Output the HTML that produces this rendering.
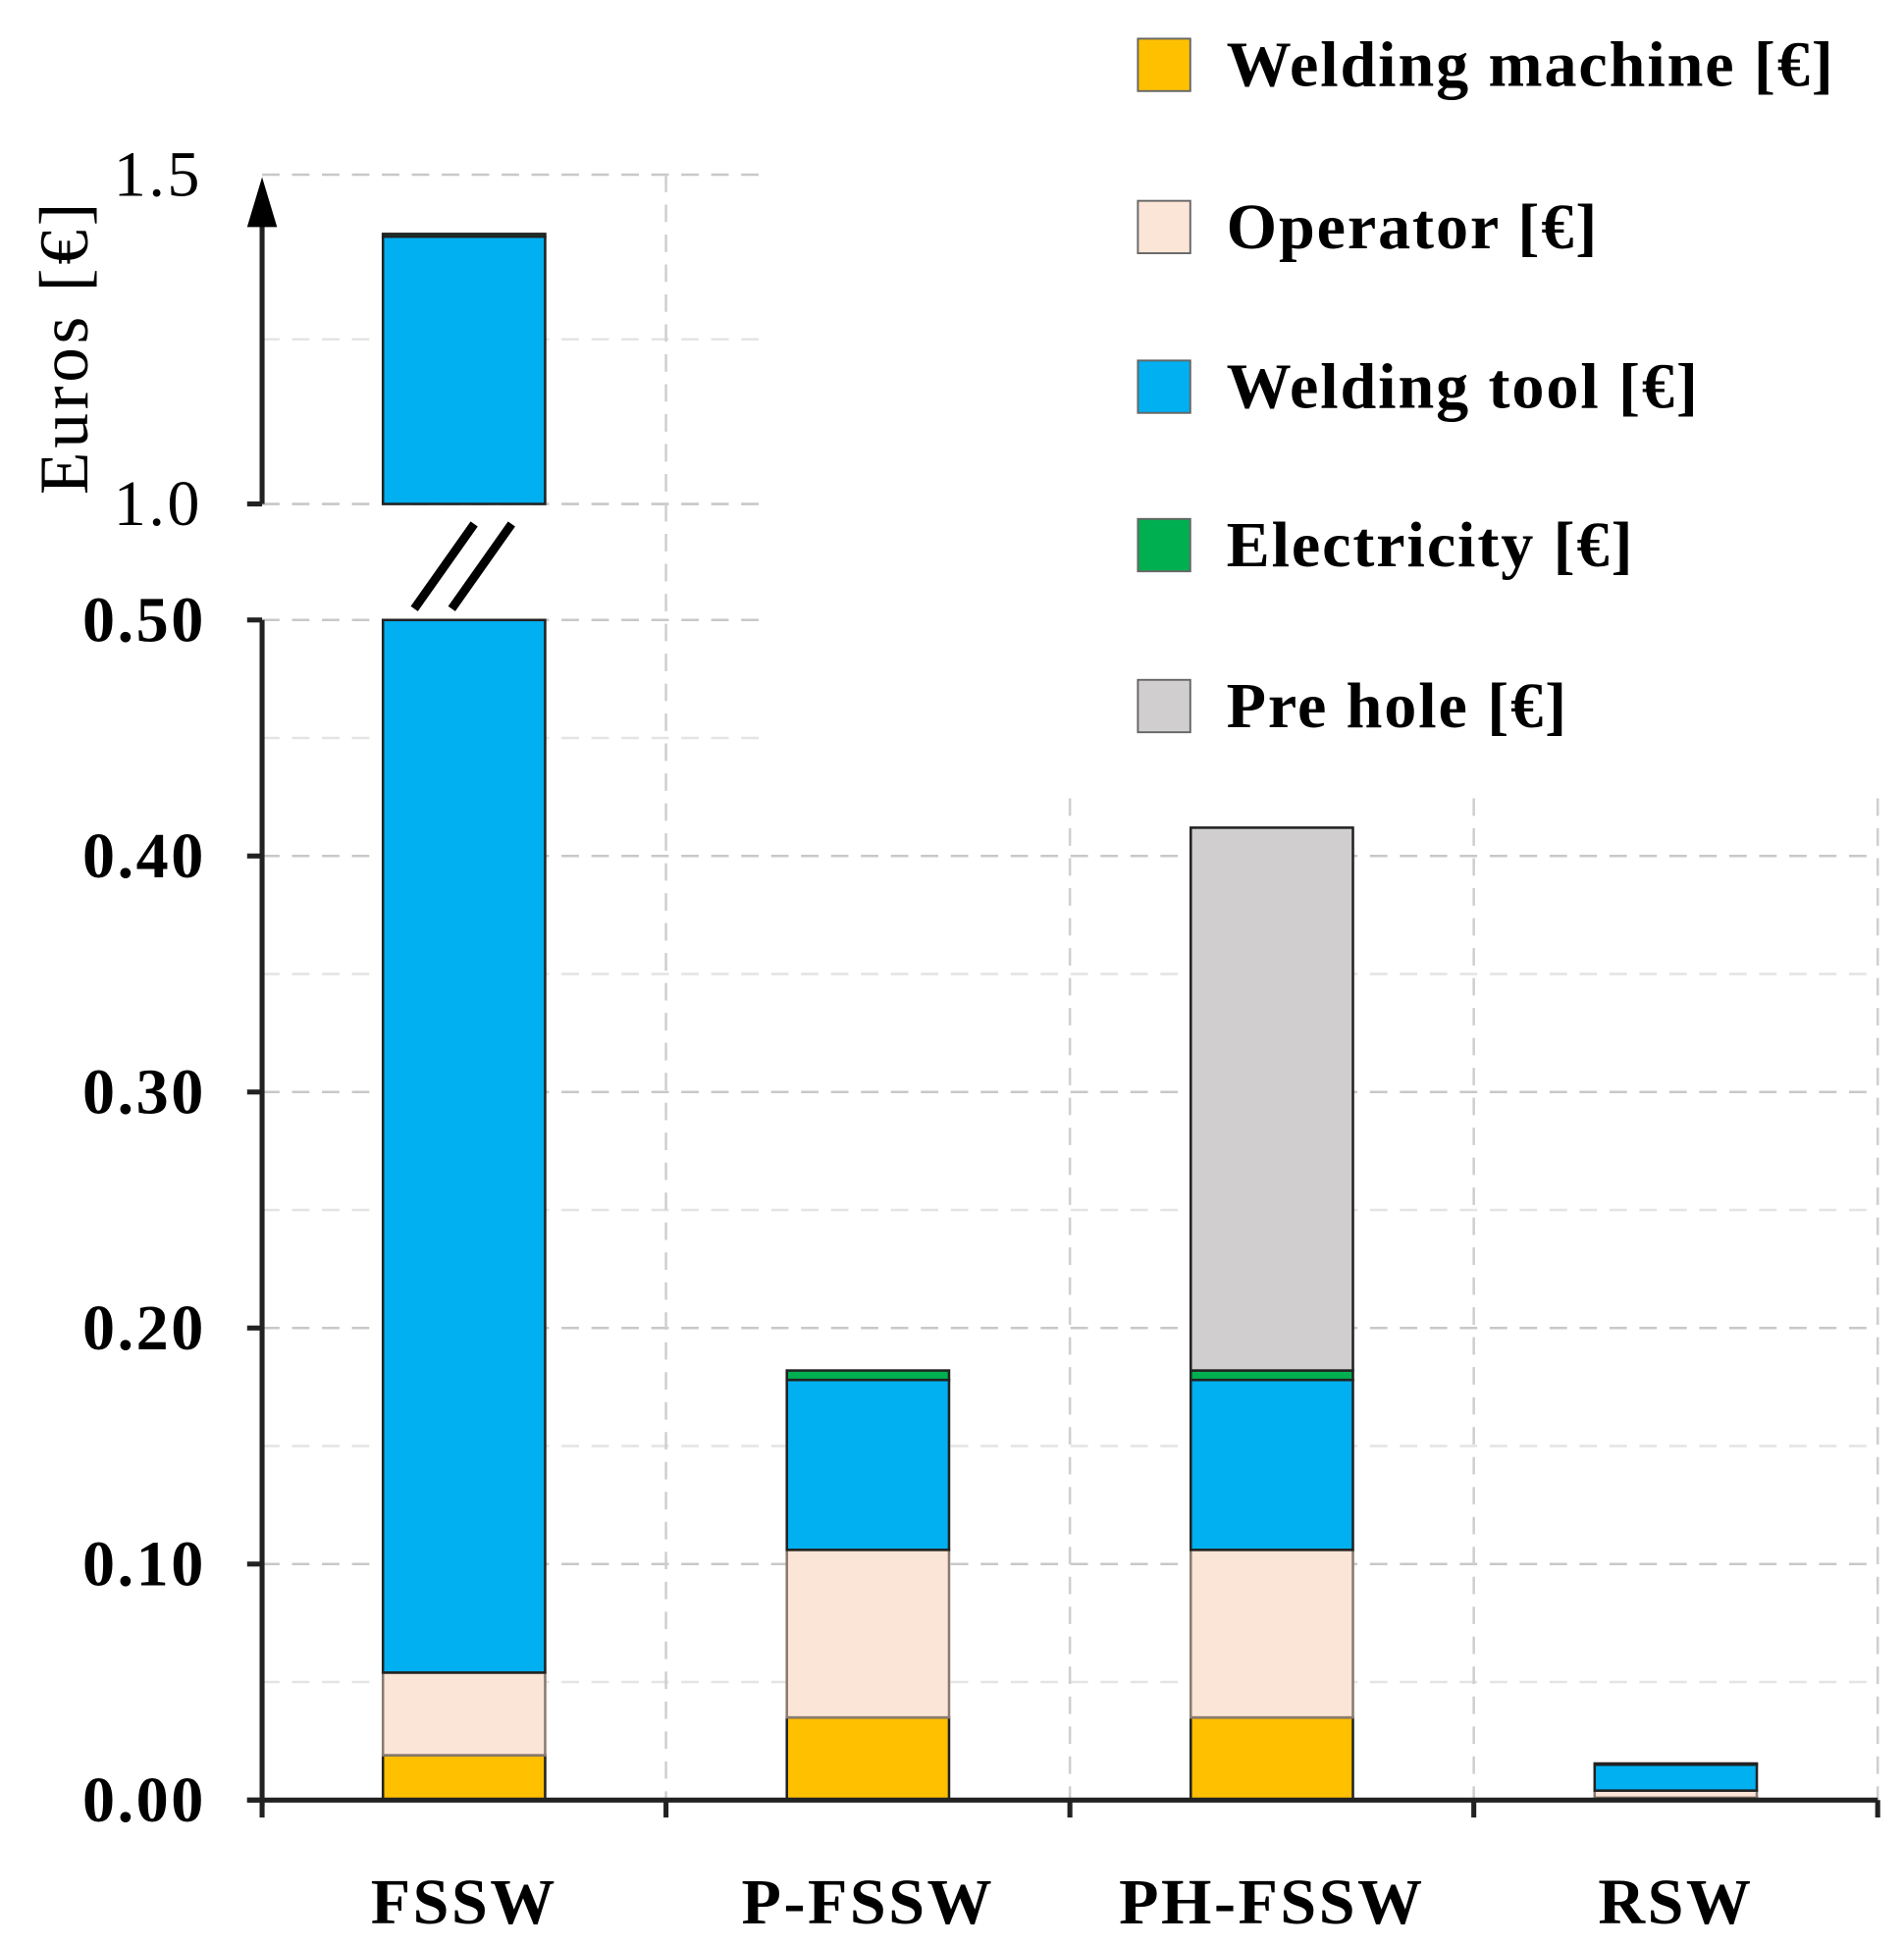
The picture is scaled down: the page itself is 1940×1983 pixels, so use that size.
<!DOCTYPE html>
<html><head><meta charset="utf-8"><style>
html,body{margin:0;padding:0;background:#fff;}
svg{display:block;}
text{font-family:"Liberation Serif",serif;}
</style></head><body>
<svg id="chart" width="1940" height="1983" viewBox="0 0 1526 1560" xmlns="http://www.w3.org/2000/svg"></svg>
<script>
const categories=["FSSW","P-FSSW","PH-FSSW","RSW"];
const seriesNames=["Welding machine [€]","Operator [€]","Welding tool [€]","Electricity [€]","Pre hole [€]"];
const machine=[0.019,0.035,0.035,0.001];
const operator=[0.035,0.071,0.071,0.003];
const tool=[1.352,0.072,0.072,0.011];
const electricity=[0.004,0.004,0.004,0.0005];
const prehole=[0,0,0.23,0];
const lowerTicks=["0.00","0.10","0.20","0.30","0.40","0.50"];
const lowerTickVals=[0,0.1,0.2,0.3,0.4,0.5];
const upperTicks=["1.0","1.5"];
const upperTickVals=[1.0,1.5];

const colors=["#ffc000","#fbe5d6","#00b0f0","#00b050","#d0cece"];
const ns="http://www.w3.org/2000/svg";
const svg=document.getElementById('chart');
function mk(tag,attrs,parent){const e=document.createElementNS(ns,tag);for(const k in attrs)e.setAttribute(k,attrs[k]);(parent||svg).appendChild(e);return e;}
const X0=210,X1=1505,catW=(X1-X0)/categories.length,barW=130;
function yLow(v){return 1443-v*1892;}
function yUp(v){return 404-(v-1.0)*528;}
function xCenter(i){return X0+catW*(i+0.5);}

// grid
const grid=mk('g',{});


for(let v=0.05;v<=0.501;v+=0.05){
  const y=yLow(v);const major=Math.round(v*100)%10===0;
  const x2=v>0.44?610:X1;
  mk('line',{x1:X0,x2:x2,y1:y,y2:y,stroke:major?'#c8c8c8':'#e4e4e4','stroke-width':2,'stroke-dasharray':'14,10'},grid);
}
[1.25,1.5].forEach(v=>{const y=yUp(v);mk('line',{x1:X0,x2:610,y1:y,y2:y,stroke:v===1.5?'#c8c8c8':'#e4e4e4','stroke-width':2,'stroke-dasharray':'14,10'},grid);});
mk('line',{x1:X0,x2:610,y1:yUp(1.0),y2:yUp(1.0),stroke:'#c8c8c8','stroke-width':2,'stroke-dasharray':'14,10'},grid);
for(let i=1;i<=categories.length;i++){
  const x=X0+catW*i;const top=i===1?140:640;
  mk('line',{x1:x,x2:x,y1:top,y2:1443,stroke:'#cfcfcf','stroke-width':2,'stroke-dasharray':'14,10'},grid);
}

// bars
const all=[machine,operator,tool,electricity,prehole];
const bars=mk('g',{});


categories.forEach((c,i)=>{
  let base=0;
  all.forEach((s,k)=>{
    const v=s[i];if(v<=0)return;
    const top=base+v;
    const xl=xCenter(i)-barW/2;
    const segs=[];
    const lo=Math.min(base,0.5),hi=Math.min(top,0.5);
    if(hi>lo)segs.push([yLow(hi),yLow(lo)]);
    if(top>1.0){const l2=Math.max(base,1.0);segs.push([yUp(top),yUp(l2)]);}
    segs.forEach(sg=>{
      const r=mk('rect',{x:xl,y:sg[0],width:barW,height:Math.max(sg[1]-sg[0],1),fill:colors[k],stroke:k===1?'#8a7a70':'#222','stroke-width':2},bars);
      
      
    });
    base=top;
  });
});

// axes
const ax=mk('g',{});


mk('line',{x1:X0,x2:X0,y1:497,y2:1448,stroke:'#222','stroke-width':4},ax);
mk('line',{x1:X0,x2:X0,y1:404,y2:165,stroke:'#222','stroke-width':4},ax);
mk('polygon',{points:`${X0-12},182 ${X0},142 ${X0+12},182`,fill:'#000'},ax);
mk('line',{x1:X0-12,x2:X0,y1:404,y2:404,stroke:'#222','stroke-width':4},ax);
lowerTickVals.forEach((v,i)=>{
  const y=yLow(v);
  mk('line',{x1:X0-12,x2:X0,y1:y,y2:y,stroke:'#222','stroke-width':4},ax);
  const t=mk('text',{x:X0-45,y:y+17,'text-anchor':'end','font-size':52,'font-weight':'bold','letter-spacing':2},ax);t.textContent=lowerTicks[i];
  
  
});
upperTickVals.forEach((v,i)=>{
  const y=yUp(v);
  const t=mk('text',{x:X0-48,y:y+17,'text-anchor':'end','font-size':52,'letter-spacing':2},ax);t.textContent=upperTicks[i];
  
  
});
const yt=mk('text',{x:0,y:0,transform:'translate(70,278) rotate(-90)','text-anchor':'middle','font-size':56,'letter-spacing':3},ax);
yt.textContent='Euros [€]';


// break marks
mk('line',{x1:332,y1:488,x2:380,y2:420,stroke:'#000','stroke-width':7},ax);
mk('line',{x1:362,y1:488,x2:410,y2:420,stroke:'#000','stroke-width':7},ax);

const xa=mk('g',{});


mk('line',{x1:X0-12,x2:X1,y1:1443,y2:1443,stroke:'#222','stroke-width':4},xa);
for(let i=0;i<=categories.length;i++){const x=X0+catW*i;mk('line',{x1:x,x2:x,y1:1443,y2:1457,stroke:'#222','stroke-width':4},xa);}
categories.forEach((c,i)=>{
  const t=mk('text',{x:xCenter(i),y:1542,'text-anchor':'middle','font-size':52,'font-weight':'bold','letter-spacing':2},xa);t.textContent=c;
  
  
});

// legend
const lg=mk('g',{});


const legY=[52,182,310,437,566];
seriesNames.forEach((n,k)=>{
  const e=mk('g',{},lg);
  
  
  mk('rect',{x:912,y:legY[k]-21,width:42,height:42,fill:colors[k],stroke:'#666','stroke-width':1.5},e);
  const t=mk('text',{x:983,y:legY[k]+17,'font-size':52,'font-weight':'bold','letter-spacing':1.5},e);t.textContent=n;
});
</script>
</body></html>
